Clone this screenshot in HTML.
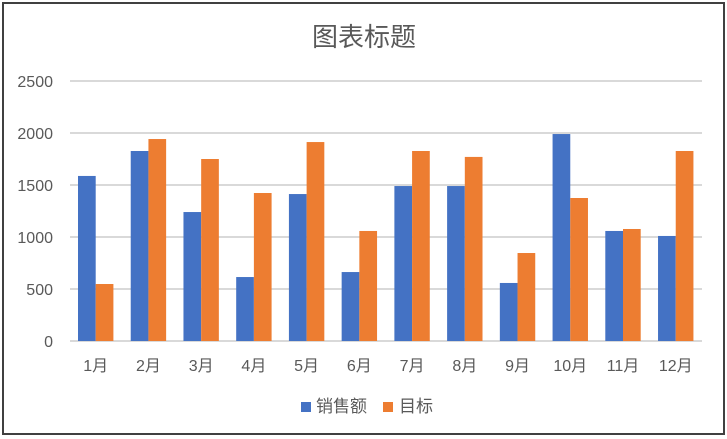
<!DOCTYPE html>
<html><head><meta charset="utf-8"><style>
html,body{margin:0;padding:0;background:#fff;}
svg{display:block;}
text{font-family:"Liberation Sans","Noto Sans CJK SC",sans-serif;fill:#595959;}
</style></head><body>
<svg width="727" height="439" viewBox="0 0 727 439" xmlns="http://www.w3.org/2000/svg">
<rect x="3" y="3" width="721" height="431" fill="#fff" stroke="#404040" stroke-width="2"/>
<text x="364" y="46" font-size="26" text-anchor="middle">图表标题</text>
<g stroke="#d9d9d9" stroke-width="2">
<line x1="70" x2="702" y1="81" y2="81"/>
<line x1="70" x2="702" y1="133" y2="133"/>
<line x1="70" x2="702" y1="185" y2="185"/>
<line x1="70" x2="702" y1="237" y2="237"/>
<line x1="70" x2="702" y1="289" y2="289"/>
<line x1="70" x2="702" y1="341" y2="341"/>
</g>
<g font-size="16" text-anchor="end">
<text x="53" y="87">2500</text>
<text x="53" y="139">2000</text>
<text x="53" y="191">1500</text>
<text x="53" y="243">1000</text>
<text x="53" y="295">500</text>
<text x="53" y="347">0</text>
</g>
<g id="bars"></g>
<g id="labels" font-size="16" text-anchor="middle"></g>
<rect x="301" y="402" width="10" height="10" fill="#4472c4"/>
<text x="316" y="412" font-size="17">销售额</text>
<rect x="383" y="402" width="10" height="10" fill="#ed7d31"/>
<text x="399" y="412" font-size="17">目标</text>
<script>
var b=[1587,1827,1240,615,1413,663,1490,1490,558,1990,1058,1010];
var o=[548,1942,1750,1423,1913,1058,1827,1770,846,1375,1077,1827];
var g=document.getElementById('bars'),l=document.getElementById('labels');
var ns='http://www.w3.org/2000/svg';
for(var i=0;i<12;i++){
 var x=78+i*52.73;
 [[b[i],'#4472c4',x],[o[i],'#ed7d31',x+17.7]].forEach(function(a){
  var r=document.createElementNS(ns,'rect');var h=a[0]*0.104;
  r.setAttribute('x',a[2]);r.setAttribute('width',17.7);r.setAttribute('y',341-h);r.setAttribute('height',h);r.setAttribute('fill',a[1]);g.appendChild(r);});
 var t=document.createElementNS(ns,'text');t.setAttribute('x',x+17.7);t.setAttribute('y',371);t.textContent=(i+1)+'月';l.appendChild(t);
}
</script>
</svg>
</body></html>
